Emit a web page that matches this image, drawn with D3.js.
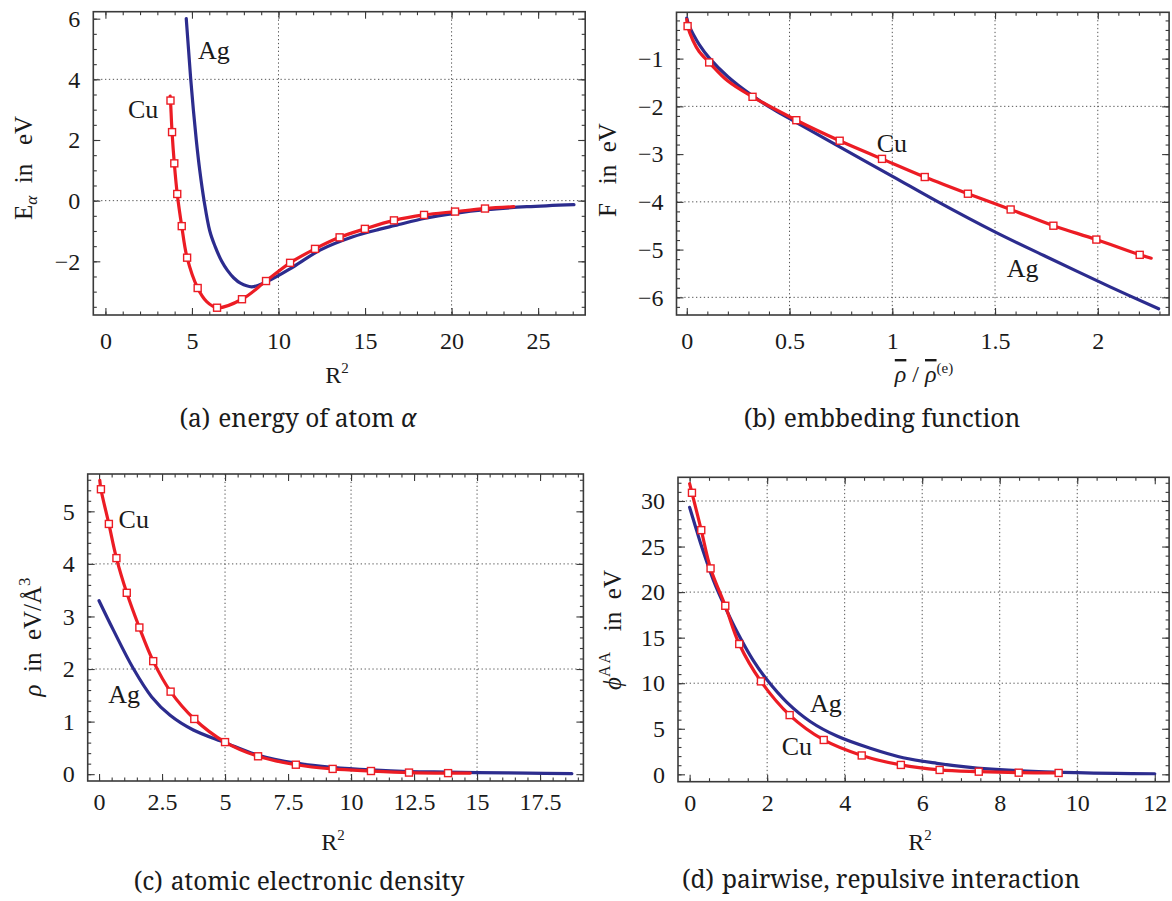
<!DOCTYPE html>
<html><head><meta charset="utf-8">
<script src="https://cdn.jsdelivr.net/npm/d3@7"></script>
<style>
html,body{margin:0;padding:0;background:#fff;}
svg text{fill:#1a1a1a;white-space:pre;}
</style></head><body>
<svg id="chart" width="1172" height="901"></svg>
<script>
// ---------------- data ----------------
// (a) energy of atom alpha  — x: R^2, y: E in eV
const aAg = [[4.67,6.0],[4.8,5.0],[4.93,4.0],[5.08,3.0],[5.25,2.0],[5.45,1.0],[5.70,0.0],[6.03,-1.0],[6.33,-1.5],[6.72,-2.0],[7.05,-2.3],[7.42,-2.55],[7.8,-2.72],[8.45,-2.84],[9.32,-2.67],[10.86,-2.18],[12.4,-1.63],[14.3,-1.19],[15.86,-0.94],[16.74,-0.82],[18.48,-0.58],[20.2,-0.42],[21.96,-0.3],[24.35,-0.2],[27.07,-0.13]];
// Cu: [x, y, hasMarker]
const aCu = [[3.74,3.45,0],[3.76,3.30,1],[3.85,2.26,1],[3.98,1.23,1],[4.15,0.22,1],[4.41,-0.84,1],[4.72,-1.88,1],[5.33,-2.88,1],[5.85,-3.33,0],[6.45,-3.53,1],[7.89,-3.25,1],[9.28,-2.65,1],[10.67,-2.05,1],[12.11,-1.59,1],[13.53,-1.21,1],[14.99,-0.93,1],[16.67,-0.65,1],[18.41,-0.47,1],[20.2,-0.36,1],[21.93,-0.26,1],[23.6,-0.2,0]];
const aXTicks = [0,5,10,15,20,25], aXLabels = ["0","5","10","15","20","25"];
const aYTicks = [-2,0,2,4,6], aYLabels = ["\u22122","0","2","4","6"];
const aGridX = [10,20], aGridY = [0,4];

// (b) embedding function — x: rho/rho(e), y: F in eV
const bAg = [[0.0,-0.15],[0.01,-0.3],[0.03,-0.48],[0.06,-0.7],[0.11,-0.99],[0.2,-1.38],[0.31,-1.75],[0.42,-2.06],[0.53,-2.33],[0.744,-2.85],[1.003,-3.47],[1.214,-3.98],[1.504,-4.64],[1.75,-5.15],[2.06,-5.78],[2.296,-6.24]];
const bCu = [[0.0,-0.18,0],[0.004,-0.32,1],[0.03,-0.62,0],[0.06,-0.85,0],[0.109,-1.08,1],[0.2,-1.47,0],[0.32,-1.80,1],[0.533,-2.29,1],[0.744,-2.72,1],[0.95,-3.10,1],[1.158,-3.48,1],[1.368,-3.83,1],[1.576,-4.16,1],[1.784,-4.50,1],[1.993,-4.79,1],[2.204,-5.11,1],[2.26,-5.18,0]];
const bXTicks = [0,0.5,1,1.5,2], bXLabels = ["0","0.5","1","1.5","2"];
const bYTicks = [-1,-2,-3,-4,-5,-6], bYLabels = ["\u22121","\u22122","\u22123","\u22124","\u22125","\u22126"];
const bGridX = [0.5,1,1.5,2], bGridY = [-2,-4,-6];

// (c) atomic electronic density — x: R^2, y: rho in eV/A^3
const cAg = [[0.0,3.30],[0.57,2.74],[1.36,2.01],[2.09,1.47],[2.82,1.12],[3.74,0.84],[5.0,0.60],[6.32,0.36],[7.81,0.21],[9.27,0.13],[10.8,0.08],[12.3,0.05],[13.85,0.04],[15.0,0.03],[17.0,0.02],[18.76,0.01]];
const cCu = [[0.03,5.59,0],[0.075,5.42,1],[0.39,4.76,1],[0.69,4.11,1],[1.10,3.45,1],[1.60,2.79,1],[2.15,2.15,1],[2.84,1.57,1],[3.78,1.05,1],[5.0,0.61,1],[6.31,0.34,1],[7.81,0.18,1],[9.27,0.10,1],[10.79,0.06,1],[12.3,0.03,1],[13.85,0.02,1],[14.73,0.02,0]];
const cXTicks = [0,2.5,5,7.5,10,12.5,15,17.5], cXLabels = ["0","2.5","5","7.5","10","12.5","15","17.5"];
const cYTicks = [0,1,2,3,4,5], cYLabels = ["0","1","2","3","4","5"];
const cGridX = [5,10,15], cGridY = [2,4];

// (d) pairwise repulsive interaction — x: R^2, y: phi^AA in eV
const dAg = [[0.0,29.3],[0.15,27.2],[0.31,25.0],[0.61,21.35],[0.91,18.4],[1.22,15.67],[1.64,12.5],[1.99,10.4],[2.51,7.9],[3.11,5.8],[3.8,4.2],[4.66,2.86],[5.51,1.82],[6.38,1.21],[7.24,0.77],[8.0,0.51],[9.0,0.30],[10.0,0.18],[11.0,0.10],[12.0,0.06]];
const dCu = [[0.0,31.9,0],[0.06,30.9,1],[0.30,26.8,1],[0.54,22.6,1],[0.92,18.5,1],[1.28,14.3,1],[1.84,10.2,1],[2.58,6.5,1],[3.46,3.77,1],[4.44,2.07,1],[5.45,1.03,1],[6.45,0.48,1],[7.46,0.29,1],[8.49,0.18,1],[9.52,0.15,1]];
const dXTicks = [0,2,4,6,8,10,12], dXLabels = ["0","2","4","6","8","10","12"];
const dYTicks = [0,5,10,15,20,25,30], dYLabels = ["0","5","10","15","20","25","30"];
const dGridX = [2,4,6,8,10], dGridY = [10,20,30];

const captions = ["energy of atom ", "embbeding function", "atomic electronic density", "pairwise, repulsive interaction"];

// ---------------- drawing ----------------
const RED = "#ec1c24", BLUE = "#2c2c8e", FRAME = "#3a3a3a";
const FONT = "'Liberation Serif', 'Times New Roman', serif";
const CAPFONT = "'Noto Serif', 'Liberation Serif', serif";
const svg = d3.select("#chart");

function minorTicks(dom, step){
  return d3.range(Math.ceil(dom[0]/step - 1e-9), Math.floor(dom[1]/step + 1e-9) + 1).map(k => +(k*step).toFixed(6));
}

function drawPanel(P){
  const g = svg.append("g");
  const x = d3.scaleLinear().domain(P.xDom).range([P.l, P.r]);
  const y = d3.scaleLinear().domain(P.yDom).range([P.b, P.t]);

  // grid
  const grid = g.append("g");
  grid.append("g").selectAll("line").data(P.gridX).join("line")
    .attr("x1", d => x(d)).attr("x2", d => x(d)).attr("y1", P.t).attr("y2", P.b);
  grid.append("g").selectAll("line").data(P.gridY).join("line")
    .attr("y1", d => y(d)).attr("y2", d => y(d)).attr("x1", P.l).attr("x2", P.r);
  grid.selectAll("line").attr("stroke", "#555").attr("stroke-width", 1).attr("stroke-dasharray", "1.3,2.6");

  // axes (ticks inward, on all four sides)
  const xm = minorTicks(P.xDom, P.xMinor), ym = minorTicks(P.yDom, P.yMinor);
  const axes = [
    [d3.axisBottom(x).tickValues(P.xTicks).tickFormat((d,i)=>P.xLabels[i]).tickSize(-7).tickPadding(P.xPad), 0, P.b],
    [d3.axisBottom(x).tickValues(xm).tickFormat("").tickSize(-3.5), 0, P.b],
    [d3.axisTop(x).tickValues(P.xTicks).tickFormat("").tickSize(-7), 0, P.t],
    [d3.axisTop(x).tickValues(xm).tickFormat("").tickSize(-3.5), 0, P.t],
    [d3.axisLeft(y).tickValues(P.yTicks).tickFormat((d,i)=>P.yLabels[i]).tickSize(-7).tickPadding(13), P.l, 0],
    [d3.axisLeft(y).tickValues(ym).tickFormat("").tickSize(-3.5), P.l, 0],
    [d3.axisRight(y).tickValues(P.yTicks).tickFormat("").tickSize(-7), P.r, 0],
    [d3.axisRight(y).tickValues(ym).tickFormat("").tickSize(-3.5), P.r, 0]
  ];
  axes.forEach(([ax, tx, ty]) => {
    const a = g.append("g").attr("transform", `translate(${tx},${ty})`).call(ax);
    a.attr("font-size", null).attr("font-family", FONT).attr("color", "#1a1a1a");
    a.select(".domain").remove();
    a.selectAll(".tick line").attr("stroke", FRAME).attr("stroke-width", 1.1);
    a.selectAll(".tick text").style("font-size", "24px");
  });

  // frame
  g.append("rect").attr("x", P.l).attr("y", P.t).attr("width", P.r - P.l).attr("height", P.b - P.t)
    .attr("fill", "none").attr("stroke", FRAME).attr("stroke-width", 1.6);

  // curves
  const line = d3.line().x(d => x(d[0])).y(d => y(d[1])).curve(d3.curveCatmullRom.alpha(0.5));
  g.append("path").datum(P.ag).attr("d", line).attr("fill", "none").attr("stroke", BLUE).attr("stroke-width", 3.2).attr("stroke-linecap", "round");
  g.append("path").datum(P.cu).attr("d", line).attr("fill", "none").attr("stroke", RED).attr("stroke-width", 3.2).attr("stroke-linecap", "round");
  const s = 7;
  g.append("g").selectAll("rect").data(P.cu.filter(d => d[2])).join("rect")
    .attr("x", d => x(d[0]) - s/2).attr("y", d => y(d[1]) - s/2).attr("width", s).attr("height", s)
    .attr("fill", "#fff").attr("stroke", RED).attr("stroke-width", 1.4);

  // curve labels
  P.names.forEach(n => g.append("text").attr("x", n[1]).attr("y", n[2]).style("font-size", "26px").text(n[0]));
  return g;
}

drawPanel({l:93.3, r:585.2, t:11.7, b:315, xDom:[-0.70,27.72], yDom:[-3.77,6.23],
  xTicks:aXTicks, xLabels:aXLabels, yTicks:aYTicks, yLabels:aYLabels, xMinor:1, yMinor:0.5, xPad:17,
  gridX:aGridX, gridY:aGridY, ag:aAg, cu:aCu, names:[["Ag",198,59],["Cu",128,118]]});
drawPanel({l:676.5, r:1169.1, t:12.3, b:315, xDom:[-0.050,2.347], yDom:[-6.37,-0.03],
  xTicks:bXTicks, xLabels:bXLabels, yTicks:bYTicks, yLabels:bYLabels, xMinor:0.1, yMinor:0.2, xPad:17,
  gridX:bGridX, gridY:bGridY, ag:bAg, cu:bCu, names:[["Cu",876.7,151.5],["Ag",1006.7,276.5]]});
drawPanel({l:87.7, r:583.4, t:474, b:781, xDom:[-0.45,19.22], yDom:[-0.13,5.71],
  xTicks:cXTicks, xLabels:cXLabels, yTicks:cYTicks, yLabels:cYLabels, xMinor:0.5, yMinor:0.2, xPad:12,
  gridX:cGridX, gridY:cGridY, ag:cAg, cu:cCu, names:[["Cu",118.6,528],["Ag",108.3,703]]});
drawPanel({l:678, r:1169.1, t:477.3, b:781.7, xDom:[-0.30,12.37], yDom:[-0.81,32.6],
  xTicks:dXTicks, xLabels:dXLabels, yTicks:dYTicks, yLabels:dYLabels, xMinor:0.5, yMinor:1, xPad:12,
  gridX:dGridX, gridY:dGridY, ag:dAg, cu:dCu, names:[["Ag",810,712],["Cu",781.7,755]]});

// axis titles
function ylab(xp, yp){
  return svg.append("text").attr("transform", `translate(${xp},${yp}) rotate(-90)`)
    .attr("text-anchor", "middle").style("font-size", "25px");
}
let t = ylab(32, 168);
t.append("tspan").text("E");
t.append("tspan").attr("font-style", "italic").style("font-size", "17px").attr("dy", 5).text("\u03b1");
t.append("tspan").attr("dy", -5).text("  in   eV");

t = ylab(616, 170);
t.append("tspan").text("F   in  eV");

t = ylab(41, 637);
t.append("tspan").attr("font-style", "italic").text("\u03c1");
t.append("tspan").text("  in  eV/\u00c5");
t.append("tspan").style("font-size", "17px").attr("dy", -11).text("3");

t = ylab(621, 630);
t.append("tspan").attr("font-style", "italic").text("\u03d5");
t.append("tspan").style("font-size", "16px").attr("letter-spacing", 2).attr("dy", -11).text("AA");
t.append("tspan").attr("dy", 11).text("   in  eV");

function xlabR2(xp, yp){
  const tt = svg.append("text").attr("x", xp).attr("y", yp).attr("text-anchor", "middle").style("font-size", "24px");
  tt.append("tspan").text("R");
  tt.append("tspan").style("font-size", "15px").attr("dy", -10).text("2");
}
xlabR2(337, 383);
xlabR2(333, 850);
xlabR2(920, 850);
t = svg.append("text").attr("x", 924).attr("y", 382).attr("text-anchor", "middle").style("font-size", "24px");
t.append("tspan").attr("font-style", "italic").style("text-decoration", "overline").text("\u03c1");
t.append("tspan").text(" / ");
t.append("tspan").attr("font-style", "italic").style("text-decoration", "overline").text("\u03c1");
t.append("tspan").style("font-size", "15px").attr("dy", -9).text("(e)");

svg.selectAll("text").style("font-family", FONT);

// captions
function caption(xp, yp, tag, txt, tail){
  const tt = svg.append("text").attr("x", xp).attr("y", yp).attr("text-anchor", "middle")
    .style("font-size", "24.5px").style("font-family", CAPFONT);
  tt.append("tspan").text(tag);
  tt.append("tspan").attr("dx", 8).text(txt);
  if (tail) tt.append("tspan").attr("font-style", "italic").text(tail);
}
caption(298, 427, "(a)", captions[0], "\u03b1");
caption(882, 427, "(b)", captions[1]);
caption(299, 890, "(c)", captions[2]);
caption(881, 888, "(d)", captions[3]);
</script>
</body></html>
